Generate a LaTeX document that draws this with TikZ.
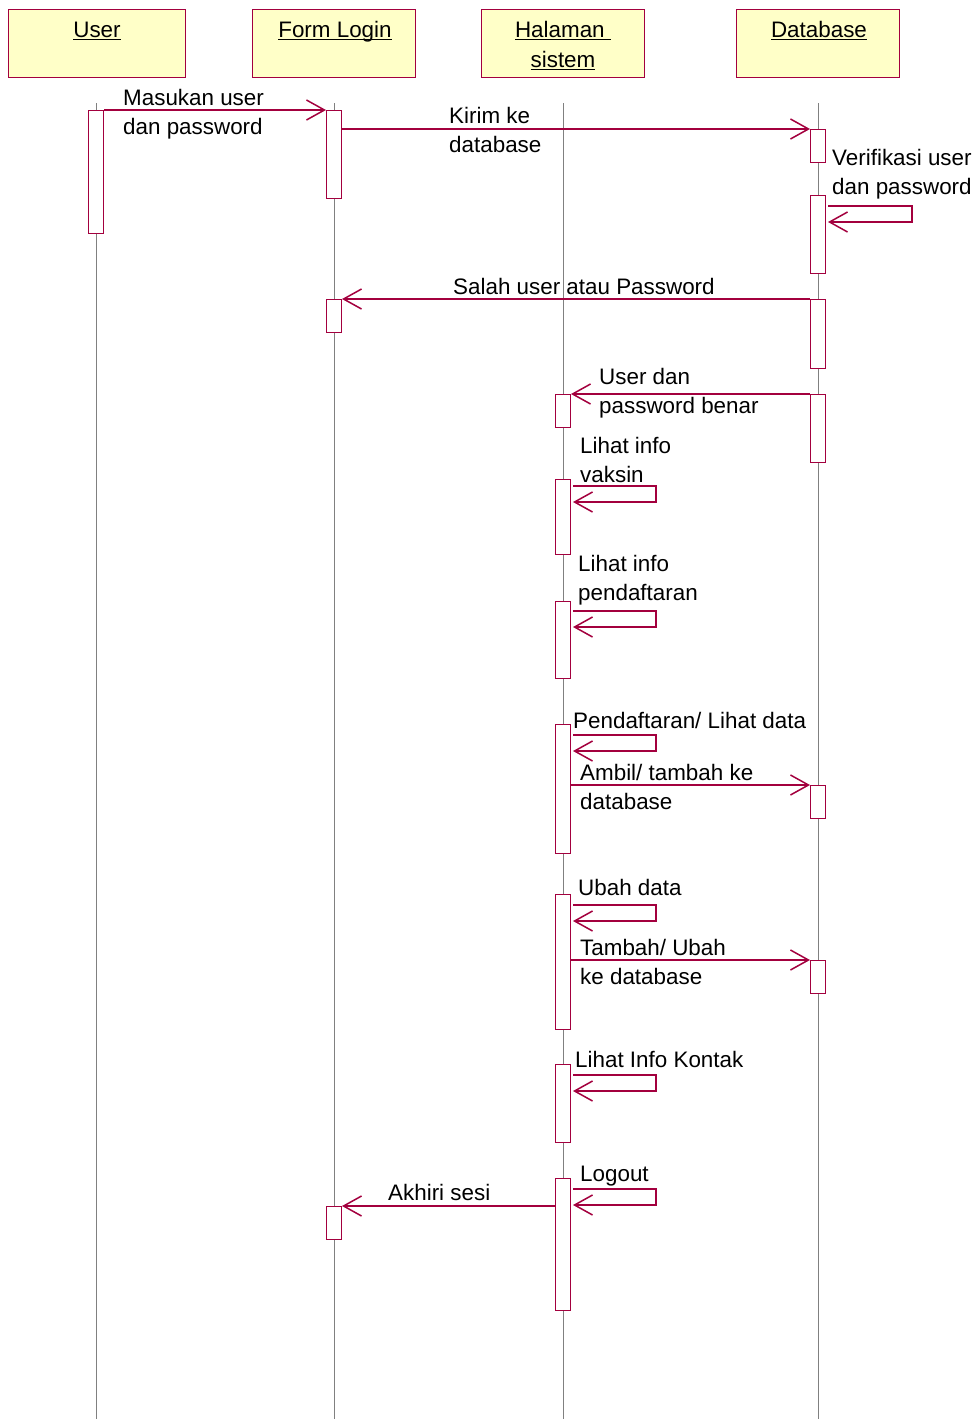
\documentclass[tikz,border=0pt]{standalone}
\usepackage{fontspec}
\setmainfont{Liberation Sans}
\usetikzlibrary{arrows.meta,calc}
\definecolor{umlred}{RGB}{163,0,62}
\definecolor{umlfill}{RGB}{255,255,200}
\definecolor{lifegray}{RGB}{128,128,128}
\newcommand\hdrul[1]{\leavevmode\setbox0\hbox{#1}\rlap{\vrule width\wd0 height -1.6pt depth 2.9pt}\box0}
\newcommand\selfloop[3]{\draw[msg] ($(#1.north east)+(2,#2)$) -- ++(#3,0) -- ++(0,16) -- ($(#1.north east)+(2,#2+16)$);}
\begin{document}
\begin{tikzpicture}[x=1pt,y=-1pt,
  every node/.style={font=\fontsize{22.4}{29.5}\selectfont},
  head/.style={draw=umlred,fill=umlfill,line width=1pt,anchor=north west,inner sep=0},
  htext/.style={anchor=base,inner sep=0},
  life/.style={draw=lifegray,line width=1pt},
  act/.style={draw=umlred,fill=white,line width=1pt,minimum width=15pt,inner sep=0,anchor=north},
  msg/.style={draw=umlred,line width=1.1pt,-{Straight Barb[length=18pt,width=20pt,line width=1.5pt]}},
  lbl/.style={anchor=base west,inner sep=0,align=left}]
\useasboundingbox (0,0) rectangle (979,1419);
% headers
\node[head,minimum width=177pt,minimum height=68pt] (hU) at (8,9) {};
\node[head,minimum width=163pt,minimum height=68pt] (hF) at (252,9) {};
\node[head,minimum width=163pt,minimum height=68pt] (hH) at (481,9) {};
\node[head,minimum width=163pt,minimum height=68pt] (hD) at (736,9) {};
\node[htext] (tU) at (97,37) {\hdrul{User}};
\node[htext] (tF) at (335,37) {\hdrul{Form Login}};
\node[htext] (tH1) at (563,37) {\hdrul{Halaman }};
\node[htext] (tH2) at (563,67) {\hdrul{sistem}};
\node[htext] (tD) at (819,37) {\hdrul{Database}};
% lifelines
\coordinate (lU0) at (96,103);  \coordinate (lU1) at (96,1419);
\coordinate (lF0) at (334,103); \coordinate (lF1) at (334,1419);
\coordinate (lH0) at (563,103); \coordinate (lH1) at (563,1419);
\coordinate (lD0) at (818,103); \coordinate (lD1) at (818,1419);
\draw[life] (lU0) -- (lU1);
\draw[life] (lF0) -- (lF1);
\draw[life] (lH0) -- (lH1);
\draw[life] (lD0) -- (lD1);
% activations
\node[act,minimum height=123pt] (aU1) at (96,110) {};
\node[act,minimum height=88pt] (aF1) at (334,110) {};
\node[act,minimum height=33pt] (aF2) at (334,299) {};
\node[act,minimum height=33pt] (aF3) at (334,1206) {};
\node[act,minimum height=33pt] (aD1) at (818,129) {};
\node[act,minimum height=78pt] (aD2) at (818,195) {};
\node[act,minimum height=69pt] (aD3) at (818,299) {};
\node[act,minimum height=68pt] (aD4) at (818,394) {};
\node[act,minimum height=33pt] (aD5) at (818,785) {};
\node[act,minimum height=33pt] (aD6) at (818,960) {};
\node[act,minimum height=33pt] (aH1) at (563,394) {};
\node[act,minimum height=75pt] (aH2) at (563,479) {};
\node[act,minimum height=77pt] (aH3) at (563,601) {};
\node[act,minimum height=129pt] (aH4) at (563,724) {};
\node[act,minimum height=135pt] (aH5) at (563,894) {};
\node[act,minimum height=78pt] (aH6) at (563,1064) {};
\node[act,minimum height=132pt] (aH7) at (563,1178) {};
% messages
\draw[msg] (aU1.north east) -- (aF1.north west);
\draw[msg] (aF1.east |- aD1.north) -- (aD1.north west);
\selfloop{aD2}{11}{84}
\draw[msg] (aD3.north west) -- (aF2.north east);
\draw[msg] (aD4.north west) -- (aH1.north east);
\selfloop{aH2}{7}{83}
\selfloop{aH3}{10}{83}
\selfloop{aH4}{11}{83}
\draw[msg] (aH4.east |- aD5.north) -- (aD5.north west);
\selfloop{aH5}{11}{83}
\draw[msg] (aH5.east |- aD6.north) -- (aD6.north west);
\selfloop{aH6}{11}{83}
\selfloop{aH7}{11}{83}
\draw[msg] (aH7.west |- aF3.north) -- (aF3.north east);
% labels (multi-line: anchor at the baseline of the last line)
\node[lbl] (m1) at (123,134.5) {Masukan user\\dan password};
\node[lbl] (m2) at (449,152.5) {Kirim ke\\database};
\node[lbl] (m3) at (832,194.5) {Verifikasi user\\dan password};
\node[lbl] (m4) at (453,294) {Salah user atau Password};
\node[lbl] (m5) at (599,413.5) {User dan\\password benar};
\node[lbl] (m6) at (580,482.5) {Lihat info\\vaksin};
\node[lbl] (m7) at (578,600.5) {Lihat info\\pendaftaran};
\node[lbl] (m8) at (573,728) {Pendaftaran/ Lihat data};
\node[lbl] (m9) at (580,809.5) {Ambil/ tambah ke\\database};
\node[lbl] (m10) at (578,895) {Ubah data};
\node[lbl] (m11) at (580,984.5) {Tambah/ Ubah\\ke database};
\node[lbl] (m12) at (575,1067) {Lihat Info Kontak};
\node[lbl] (m13) at (580,1181) {Logout};
\node[lbl] (m14) at (388,1200) {Akhiri sesi};
\end{tikzpicture}
\end{document}
